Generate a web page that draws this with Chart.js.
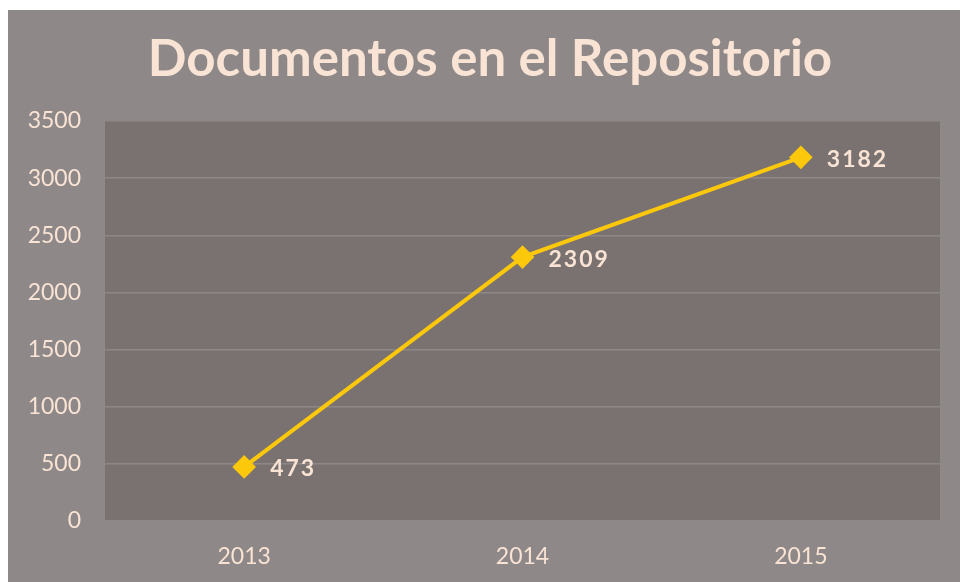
<!DOCTYPE html>
<html><head><meta charset="utf-8">
<script src="https://cdn.jsdelivr.net/npm/chart.js@4/dist/chart.umd.min.js"></script>
<style>
html,body{margin:0;padding:0;background:#fff;}
#wrap{position:absolute;left:8px;top:10px;width:952px;height:572px;}
</style></head>
<body><div id="wrap"><canvas id="c"></canvas></div>
<script>
const categories = ['2013','2014','2015'];
const documentos = [473, 2309, 3182];
const yTicks = [0,500,1000,1500,2000,2500,3000,3500];
const titleText = 'Documentos en el Repositorio';

const textColor = '#f8e3d4';
const bgPlugin = {
  id:'bg',
  beforeDraw(chart){
    const {ctx, chartArea:a} = chart;
    ctx.save();
    ctx.fillStyle = '#8e8888';
    ctx.fillRect(0,0,chart.width,chart.height);
    ctx.fillStyle = '#7a7270';
    ctx.fillRect(a.left,a.top,a.right-a.left,a.bottom-a.top);
    ctx.font = 'bold 51px Lato';
    ctx.fillStyle = textColor;
    ctx.textAlign = 'center';
    ctx.textBaseline = 'middle';
    ctx.fillText(titleText, 482, 50);
    ctx.restore();
  }
};
const labelPlugin = {
  id:'labels',
  afterDatasetsDraw(chart){
    const {ctx} = chart;
    const meta = chart.getDatasetMeta(0);
    ctx.save();
    ctx.font = 'bold 23px Lato';
    if ('letterSpacing' in ctx) ctx.letterSpacing = '2px';
    ctx.fillStyle = textColor;
    ctx.textBaseline = 'middle';
    ctx.textAlign = 'left';
    meta.data.forEach((p,i)=>{
      ctx.fillText(String(chart.data.datasets[0].data[i]), p.x+26, p.y+2);
    });
    ctx.restore();
  }
};

new Chart(document.getElementById('c'), {
  type:'line',
  data:{labels:categories, datasets:[{
    data:documentos,
    borderColor:'#fcc80c',
    backgroundColor:'#fcc80c',
    borderWidth:4,
    pointStyle:'rectRot',
    pointRadius:9,
    pointHoverRadius:9,
    tension:0
  }]},
  options:{
    responsive:true, maintainAspectRatio:false, animation:false,
    layout:{padding:{left:0,right:20,top:111,bottom:0}},
    plugins:{
      legend:{display:false}, tooltip:{enabled:false}, title:{display:false}
    },
    scales:{
      x:{offset:true, grid:{display:false}, border:{display:false},
        ticks:{color:textColor, font:{family:'Lato', size:23}, padding:14},
        afterFit(s){ s.height = 61; }},
      y:{min:0,max:3500, afterBuildTicks(s){ s.ticks = yTicks.map(v=>({value:v})); },
        grid:{color:'#8d8785', lineWidth:1.5, drawTicks:false}, border:{display:false},
        ticks:{color:textColor, font:{family:'Lato', size:23}, padding:24, callback:v=>String(v)},
        afterFit(s){ s.width = 97; }}
    }
  },
  plugins:[bgPlugin,labelPlugin]
});
</script></body></html>
